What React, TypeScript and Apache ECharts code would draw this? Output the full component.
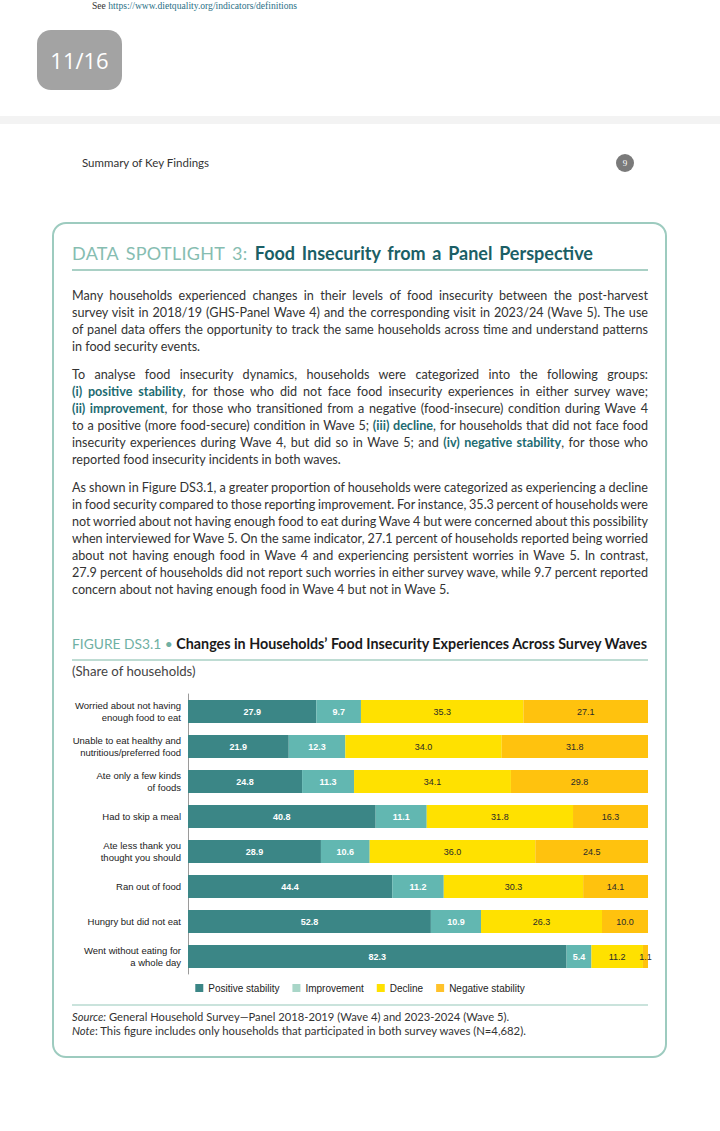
import React, { useEffect, useLayoutEffect, useRef } from "react";
import * as echarts from "echarts";

const categories = [
  "Worried about not having\nenough food to eat",
  "Unable to eat healthy and\nnutritious/preferred food",
  "Ate only a few kinds\nof foods",
  "Had to skip a meal",
  "Ate less thank you\nthought you should",
  "Ran out of food",
  "Hungry but did not eat",
  "Went without eating for\na whole day",
];
const positiveStability = [27.9, 21.9, 24.8, 40.8, 28.9, 44.4, 52.8, 82.3];
const improvement = [9.7, 12.3, 11.3, 11.1, 10.6, 11.2, 10.9, 5.4];
const decline = [35.3, 34.0, 34.1, 31.8, 36.0, 30.3, 26.3, 11.2];
const negativeStability = [27.1, 31.8, 29.8, 16.3, 24.5, 14.1, 10.0, 1.1];
const seriesNames = ["Positive stability", "Improvement", "Decline", "Negative stability"];
const barColors = ["#3b8686", "#62b7b1", "#ffe100", "#ffc20e"];
const legendColors = ["#3b8686", "#a9d6c8", "#ffe100", "#ffc22a"];
const labelColors = ["#ffffff", "#ffffff", "#2a2a2a", "#2a2a2a"];

const BODY_FONT = "Lato, 'Noto Sans', sans-serif";
const TEAL = "#1d6b71";

type Seg = { t: string; b?: boolean };
const p1: Seg[][] = [
  [{ t: "Many households experienced changes in their levels of food insecurity between the post-harvest" }],
  [{ t: "survey visit in 2018/19 (GHS-Panel Wave 4) and the corresponding visit in 2023/24 (Wave 5). The use" }],
  [{ t: "of panel data offers the opportunity to track the same households across time and understand patterns" }],
  [{ t: "in food security events." }],
];
const p2: Seg[][] = [
  [{ t: "To analyse food insecurity dynamics, households were categorized into the following groups:" }],
  [{ t: "(i) positive stability", b: true }, { t: ", for those who did not face food insecurity experiences in either survey wave;" }],
  [{ t: "(ii) improvement", b: true }, { t: ", for those who transitioned from a negative (food-insecure) condition during Wave 4" }],
  [{ t: "to a positive (more food-secure) condition in Wave 5; " }, { t: "(iii) decline", b: true }, { t: ", for households that did not face food" }],
  [{ t: "insecurity experiences during Wave 4, but did so in Wave 5; and " }, { t: "(iv) negative stability", b: true }, { t: ", for those who" }],
  [{ t: "reported food insecurity incidents in both waves." }],
];
const p3: Seg[][] = [
  [{ t: "As shown in Figure DS3.1, a greater proportion of households were categorized as experiencing a decline" }],
  [{ t: "in food security compared to those reporting improvement. For instance, 35.3 percent of households were" }],
  [{ t: "not worried about not having enough food to eat during Wave 4 but were concerned about this possibility" }],
  [{ t: "when interviewed for Wave 5. On the same indicator, 27.1 percent of households reported being worried" }],
  [{ t: "about not having enough food in Wave 4 and experiencing persistent worries in Wave 5. In contrast," }],
  [{ t: "27.9 percent of households did not report such worries in either survey wave, while 9.7 percent reported" }],
  [{ t: "concern about not having enough food in Wave 4 but not in Wave 5." }],
];

function FitLine(props: { top: number; left: number; width: number; justify: boolean; segs: Seg[]; fontSize: number }) {
  const ref = useRef<HTMLDivElement>(null);
  useLayoutEffect(() => {
    const el = ref.current;
    if (!el) return;
    const fit = () => {
      el.style.wordSpacing = "0px";
      const w = el.getBoundingClientRect().width;
      const n = (el.textContent || "").split(" ").length - 1;
      if (n > 0 && (props.justify || w > props.width)) {
        el.style.wordSpacing = (props.width - w) / n + "px";
      }
    };
    fit();
    if ((document as any).fonts) (document as any).fonts.ready.then(fit);
  });
  return (
    <div
      ref={ref}
      style={{
        position: "absolute",
        left: props.left,
        top: props.top,
        whiteSpace: "nowrap",
        fontSize: props.fontSize,
        lineHeight: "16px",
        color: "#333",
        fontFamily: BODY_FONT,
      }}
    >
      {props.segs.map((s, i) => (
        <span key={i} style={s.b ? { fontWeight: 700, color: TEAL } : undefined}>
          {s.t}
        </span>
      ))}
    </div>
  );
}

function Para({ lines, y0, step }: { lines: Seg[][]; y0: number; step: number }) {
  return (
    <>
      {lines.map((l, i) => (
        <FitLine key={i} top={y0 + i * step - 8} left={72} width={576} justify={i < lines.length - 1} segs={l} fontSize={12.6} />
      ))}
    </>
  );
}

function TitleLine() {
  const ref = useRef<HTMLDivElement>(null);
  useLayoutEffect(() => {
    const el = ref.current;
    if (!el) return;
    const fit = () => {
      el.style.wordSpacing = "0px";
      const w = el.getBoundingClientRect().width;
      const n = (el.textContent || "").split(" ").length - 1;
      el.style.wordSpacing = (521 - w) / n + "px";
    };
    fit();
    if ((document as any).fonts) (document as any).fonts.ready.then(fit);
  });
  return (
    <div
      ref={ref}
      style={{ position: "absolute", left: 72, top: 242, whiteSpace: "nowrap", fontSize: 18, lineHeight: "22px", fontFamily: BODY_FONT }}
    >
      <span style={{ color: "#86bdb1", letterSpacing: 0.3 }}>DATA SPOTLIGHT 3: </span>
      <span style={{ color: "#1b5f66", fontWeight: 700 }}>Food Insecurity from a Panel Perspective</span>
    </div>
  );
}

function Chart() {
  const ref = useRef<HTMLDivElement>(null);
  useEffect(() => {
    if (!ref.current) return;
    const chart = echarts.init(ref.current, undefined, { renderer: "svg" });
    const dataSets = [positiveStability, improvement, decline, negativeStability];
    const option: any = {
      animation: false,
      backgroundColor: "transparent",
      textStyle: { fontFamily: "'Liberation Sans', Arial, sans-serif" },
      grid: { left: 188, right: 72, top: 74, height: 280, containLabel: false },
      xAxis: { type: "value", min: 0, max: 100, show: false },
      yAxis: {
        type: "category",
        data: categories,
        inverse: true,
        axisLine: { show: true, lineStyle: { color: "#9a9a9a", width: 1 } },
        axisTick: { show: false },
        axisLabel: { fontSize: 9.5, color: "#222", margin: 7, lineHeight: 12, align: "right" },
      },
      legend: {
        top: 363,
        left: "center",
        padding: 0,
        itemWidth: 8,
        itemHeight: 8,
        itemGap: 13,
        icon: "rect",
        textStyle: { fontSize: 10, color: "#222", fontFamily: "'Liberation Sans', Arial, sans-serif" },
        data: seriesNames.map((n, i) => ({ name: n, itemStyle: { color: legendColors[i] } })),
      },
      series: seriesNames.map((n, i) => ({
        name: n,
        type: "bar",
        stack: "total",
        barWidth: 23,
        data: dataSets[i],
        itemStyle: { color: barColors[i] },
        label: {
          show: true,
          position: "inside",
          formatter: (p: any) => Number(p.value).toFixed(1),
          fontSize: 9,
          fontWeight: i < 2 ? "bold" : "normal",
          color: labelColors[i],
        },
      })),
      graphic: [
        {
          type: "text",
          left: 72,
          top: 16,
          style: {
            text: "{a|FIGURE DS3.1}{d| • }{c|Changes in Households’ Food Insecurity Experiences Across Survey Waves}",
            rich: {
              a: { fontSize: 13.8, fill: "#6fb0a3", fontFamily: BODY_FONT },
              d: { fontSize: 13.8, fill: "#6fb0a3", fontFamily: BODY_FONT },
              c: { fontSize: 14.3, fill: "#1a1a1a", fontWeight: "bold", fontFamily: BODY_FONT },
            },
          },
        },
        { type: "line", shape: { x1: 72, y1: 40, x2: 648, y2: 40 }, style: { stroke: "#a9d0c5", lineWidth: 1.5 } },
        {
          type: "text",
          left: 72,
          top: 44,
          style: { text: "(Share of households)", fontSize: 13.2, fill: "#444", fontFamily: BODY_FONT },
        },
        { type: "line", shape: { x1: 72, y1: 385, x2: 648, y2: 385 }, style: { stroke: "#b8dad0", lineWidth: 1.5 } },
        {
          type: "text",
          left: 72,
          top: 391,
          style: {
            text: "{i|Source:} General Household Survey—Panel 2018-2019 (Wave 4) and 2023-2024 (Wave 5).",
            fontSize: 11.2,
            fill: "#333",
            fontFamily: BODY_FONT,
            rich: { i: { fontStyle: "italic", fontSize: 11.2, fill: "#333", fontFamily: BODY_FONT } },
          },
        },
        {
          type: "text",
          left: 72,
          top: 405,
          style: {
            text: "{i|Note}: This figure includes only households that participated in both survey waves (N=4,682).",
            fontSize: 11.3,
            fill: "#333",
            fontFamily: BODY_FONT,
            rich: { i: { fontStyle: "italic", fontSize: 11.3, fill: "#333", fontFamily: BODY_FONT } },
          },
        },
      ],
    };
    chart.setOption(option);
    return () => chart.dispose();
  }, []);
  return <div ref={ref} style={{ position: "absolute", left: 0, top: 620, width: 720, height: 440 }} />;
}

export default function App() {
  return (
    <div style={{ position: "absolute", left: 0, top: 0, width: 720, height: 1131, background: "#fff", overflow: "hidden" }}>
      <div style={{ position: "absolute", left: 92, top: 0, fontSize: 9.6, lineHeight: "12px", fontFamily: "'Liberation Serif', serif", color: "#333", whiteSpace: "nowrap" }}>
        See <span style={{ color: "#2a6f86" }}>https://www.dietquality.org/indicators/definitions</span>
      </div>
      <div
        style={{
          position: "absolute",
          left: 37,
          top: 30,
          width: 85,
          height: 60,
          borderRadius: 14,
          background: "#a3a3a3",
          color: "#fff",
          fontFamily: "'Open Sans', sans-serif",
          fontSize: 22,
          lineHeight: "60px",
          textAlign: "center",
        }}
      >
        11/16
      </div>
      <div style={{ position: "absolute", left: 0, top: 116, width: 720, height: 8, background: "#f3f3f3" }} />
      <div style={{ position: "absolute", left: 82, top: 155, fontSize: 11.5, lineHeight: "16px", fontFamily: BODY_FONT, color: "#333" }}>
        Summary of Key Findings
      </div>
      <div
        style={{
          position: "absolute",
          left: 616,
          top: 154,
          width: 18,
          height: 18,
          borderRadius: 9,
          background: "#7a7a7a",
          color: "#fff",
          fontSize: 9,
          lineHeight: "18px",
          textAlign: "center",
          fontFamily: "'Liberation Serif', serif",
        }}
      >
        9
      </div>
      <div
        style={{
          position: "absolute",
          left: 52,
          top: 222,
          width: 615,
          height: 836,
          border: "2.5px solid #9dcbbf",
          borderRadius: 14,
          boxSizing: "border-box",
        }}
      />
      <TitleLine />
      <div style={{ position: "absolute", left: 72, top: 269, width: 576, height: 1.5, background: "#a9d0c5" }} />
      <Para lines={p1} y0={296} step={17} />
      <Para lines={p2} y0={375} step={17} />
      <Para lines={p3} y0={488} step={17} />
      <Chart />
    </div>
  );
}
